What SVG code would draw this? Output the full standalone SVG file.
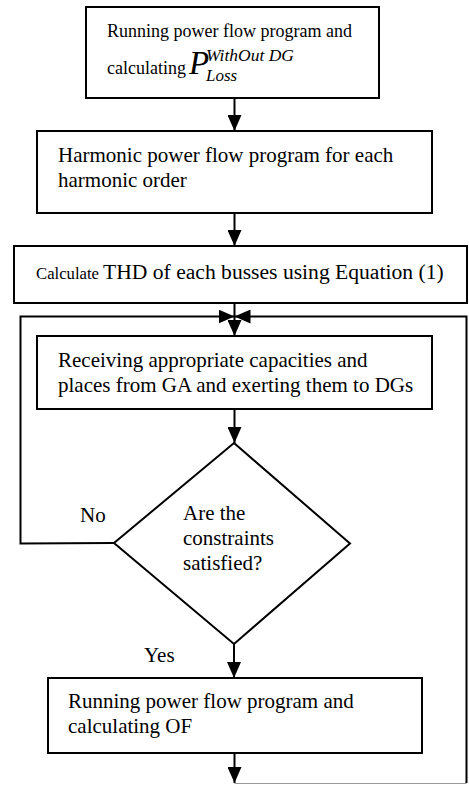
<svg xmlns="http://www.w3.org/2000/svg" width="469" height="785" viewBox="0 0 469 785">
<style>
.box{fill:#fff;stroke:#000;stroke-width:2}
.t{font-family:"Liberation Serif","Times New Roman",serif;font-size:21px;fill:#000}
.c{fill:none;stroke:#000;stroke-width:2}
</style>
<defs>
<marker id="ah" markerUnits="userSpaceOnUse" markerWidth="16" markerHeight="14" refX="16" refY="7" orient="auto">
<path d="M0,0 L16,7 L0,14 z" fill="#000"/>
</marker>
</defs>
<rect width="469" height="785" fill="#fff"/>
<g id="connectors">
<path class="c" d="M234.5,98 V131" marker-end="url(#ah)"/>
<path class="c" d="M234.5,213 V246" marker-end="url(#ah)"/>
<path class="c" d="M234.5,303 V336" marker-end="url(#ah)"/>
<path class="c" d="M234.5,409 V443" marker-end="url(#ah)"/>
<path class="c" d="M234,644 V678" marker-end="url(#ah)"/>
<path class="c" d="M234.5,753 V783" marker-end="url(#ah)"/>
<path d="M234.5,783.5 H466.5" fill="none" stroke="#999" stroke-width="1"/>
<path class="c" d="M466.5,783 V316.5 H234.5" stroke-width="1.6" marker-end="url(#ah)"/>
<path class="c" d="M114,543 L20.5,543.5 V316.5 H234.5" marker-end="url(#ah)"/>
</g>
<g id="n1">
<rect class="box" x="86" y="7" width="293" height="91"/>
<text class="t" x="107" y="36.5" style="font-size:18px">Running power flow program and</text>
<text class="t" x="107" y="74" style="font-size:18px">calculating<tspan x="189" style="font-size:33px;font-style:italic">P</tspan><tspan x="206" y="60.5" style="font-size:17.5px;font-style:italic">WithOut DG</tspan><tspan x="206" y="80.5" style="font-size:17px;font-style:italic">Loss</tspan></text>
</g>
<g id="n2">
<rect class="box" x="37" y="131" width="395" height="82"/>
<text class="t" x="58" y="162">Harmonic power flow program for each</text>
<text class="t" x="58" y="187">harmonic order</text>
</g>
<g id="n3">
<rect class="box" x="14" y="246" width="453" height="57"/>
<text class="t" x="36" y="279"><tspan style="font-size:16.7px">Calculate</tspan><tspan style="font-size:21.6px" x="103">THD of each busses using Equation (1)</tspan></text>
</g>
<g id="n4">
<rect class="box" x="37" y="336" width="395" height="73"/>
<text class="t" x="58" y="367">Receiving appropriate capacities and</text>
<text class="t" x="58" y="392">places from GA and exerting them to DGs</text>
</g>
<g id="n5">
<path class="box" d="M234,443 L350,543.5 L234,644 L114,543 Z"/>
<text class="t" x="183" y="520">Are the</text>
<text class="t" x="183" y="545">constraints</text>
<text class="t" x="183" y="570">satisfied?</text>
</g>
<g id="labels">
<text class="t" x="80" y="522">No</text>
<text class="t" x="144" y="662">Yes</text>
</g>
<g id="n6">
<rect class="box" x="48" y="678" width="374" height="75"/>
<text class="t" x="68" y="708">Running power flow program and</text>
<text class="t" x="68" y="733">calculating OF</text>
</g>
</svg>
